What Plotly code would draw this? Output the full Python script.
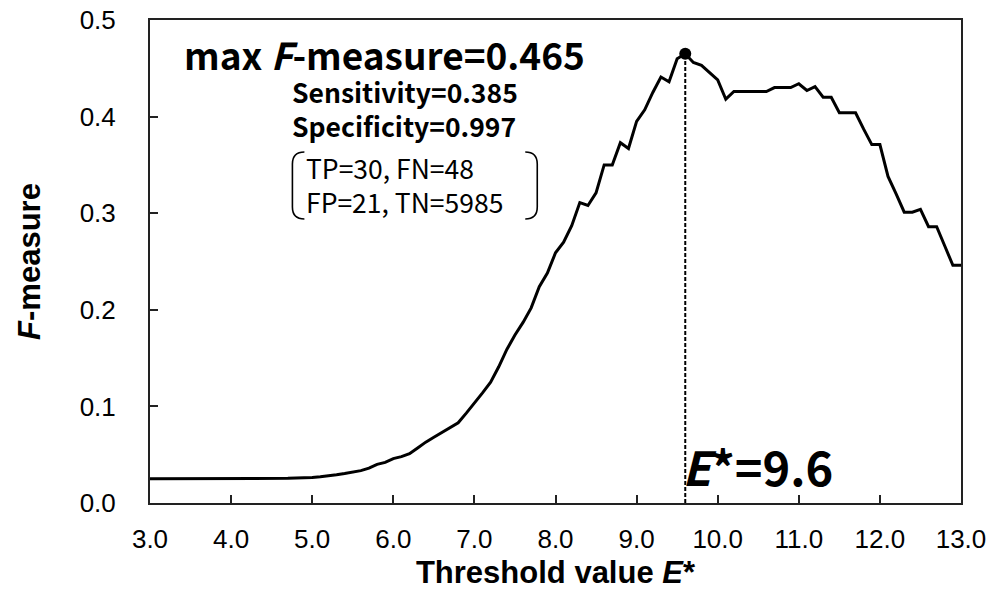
import plotly.graph_objects as go

# Threshold sweep (E*) and the resulting F-measure
threshold = [round(3.0 + 0.1 * i, 1) for i in range(101)]
f_measure = [
    0.025, 0.025, 0.025, 0.025, 0.025, 0.025, 0.025, 0.025, 0.025, 0.025,   # 3.0-3.9
    0.025, 0.025, 0.025, 0.025, 0.025, 0.0252, 0.0253, 0.0255, 0.0258, 0.026,  # 4.0-4.9
    0.0265, 0.0272, 0.028, 0.0292, 0.0305, 0.032, 0.0335, 0.036, 0.040, 0.042,  # 5.0-5.9
    0.046, 0.048, 0.051, 0.057, 0.063, 0.068, 0.073, 0.078, 0.083, 0.093,   # 6.0-6.9
    0.103, 0.114, 0.125, 0.141, 0.159, 0.174, 0.187, 0.202, 0.224, 0.238,   # 7.0-7.9
    0.259, 0.270, 0.287, 0.311, 0.308, 0.321, 0.350, 0.350, 0.373, 0.367,   # 8.0-8.9
    0.395, 0.407, 0.425, 0.441, 0.436, 0.460, 0.465, 0.456, 0.453, 0.445,   # 9.0-9.9
    0.438, 0.418, 0.426, 0.426, 0.426, 0.426, 0.426, 0.430, 0.430, 0.430,   # 10.0-10.9
    0.434, 0.427, 0.431, 0.420, 0.420, 0.404, 0.404, 0.404, 0.387, 0.371,   # 11.0-11.9
    0.371, 0.338, 0.320, 0.301, 0.301, 0.304, 0.286, 0.286, 0.266, 0.246,   # 12.0-12.9
    0.246,                                                                  # 13.0
]

best_threshold = 9.6
best_f = 0.465
x_ticks = [3.0, 4.0, 5.0, 6.0, 7.0, 8.0, 9.0, 10.0, 11.0, 12.0, 13.0]
y_ticks = [0.0, 0.1, 0.2, 0.3, 0.4, 0.5]

W, H = 990, 594
L, R, T, B = 149.5, 29, 20, 91
PW, PH = W - L - R, H - T - B


def px(xp):
    return (xp - L) / PW


def py(yp):
    return (H - B - yp) / PH


ANN_FONT = "Noto Sans CJK KR"
AX_FONT = "Liberation Sans"

fig = go.Figure()

fig.add_trace(go.Scatter(
    x=threshold, y=f_measure, mode="lines",
    line=dict(color="black", width=3), hoverinfo="skip", showlegend=False,
))

# dashed drop line from the optimum to the axis
fig.add_trace(go.Scatter(
    x=[best_threshold, best_threshold], y=[0, best_f], mode="lines",
    line=dict(color="black", width=2, dash="4px,2px"), showlegend=False,
))
fig.add_trace(go.Scatter(
    x=[best_threshold], y=[best_f], mode="markers",
    marker=dict(color="black", size=12), showlegend=False,
))

annotations = [
    dict(text="max <i>F</i>-measure=0.465", x=px(183), y=py(54),
         font=dict(family=ANN_FONT, size=37, color="black", weight="bold")),
    dict(text="Sensitivity=0.385<br>Specificity=0.997", x=px(291), y=py(109),
         font=dict(family=ANN_FONT, size=26.5, color="black", weight="bold")),
    dict(text="TP=30, FN=48<br>FP=21, TN=5985", x=px(305), y=py(184),
         font=dict(family=ANN_FONT, size=26.5, color="black")),
    dict(text="<i>E</i>*=9.6", x=px(681), y=py(465),
         font=dict(family=ANN_FONT, size=47, color="black", weight="bold")),
]
for a in annotations:
    a.update(xref="paper", yref="paper", xanchor="left", yanchor="middle",
             align="left", showarrow=False, borderpad=0)


def bracket(x_edge, x_tip, y_top, y_bot, r=12):
    return (f"M {px(x_tip)},{py(y_top)} "
            f"Q {px(x_edge)},{py(y_top)} {px(x_edge)},{py(y_top + r)} "
            f"L {px(x_edge)},{py(y_bot - r)} "
            f"Q {px(x_edge)},{py(y_bot)} {px(x_tip)},{py(y_bot)}")


shapes = [
    dict(type="path", path=bracket(292, 304, 152, 219), xref="paper", yref="paper",
         line=dict(color="black", width=1.6)),
    dict(type="path", path=bracket(537, 525, 152, 219), xref="paper", yref="paper",
         line=dict(color="black", width=1.6)),
]

fig.update_layout(
    width=W, height=H,
    margin=dict(l=L, r=R, t=T, b=B, autoexpand=False),
    paper_bgcolor="white", plot_bgcolor="white",
    annotations=annotations, shapes=shapes,
    showlegend=False,
)

fig.update_xaxes(
    range=[3.0, 13.0], tickvals=x_ticks, ticktext=[f"{v:.1f}" for v in x_ticks],
    ticks="inside", ticklen=8, tickwidth=2, tickcolor="#222",
    showline=True, linecolor="#222", linewidth=2, mirror=True,
    showgrid=False, zeroline=False, automargin=False,
    tickfont=dict(family=AX_FONT, size=26, color="black"),
    ticklabelstandoff=12,
    title=dict(text="Threshold value <i>E</i>*", standoff=8,
               font=dict(family=AX_FONT, size=31, color="black", weight="bold")),
)
fig.update_yaxes(
    range=[0.0, 0.5], tickvals=y_ticks, ticktext=[f"{v:.1f}" for v in y_ticks],
    ticks="inside", ticklen=8, tickwidth=2, tickcolor="#222",
    showline=True, linecolor="#222", linewidth=2, mirror=True,
    showgrid=False, zeroline=False, automargin=False,
    tickfont=dict(family=AX_FONT, size=26, color="black"),
    ticklabelstandoff=27,
    title=dict(text="<i>F</i>-measure", standoff=30,
               font=dict(family=AX_FONT, size=31, color="black", weight="bold")),
)

fig.write_html("out.html")
